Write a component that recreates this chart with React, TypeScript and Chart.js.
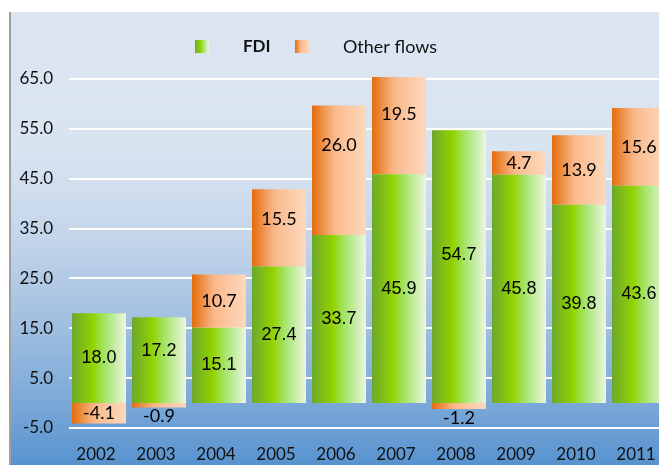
import React, { useEffect, useRef } from "react";
import { Chart, registerables } from "chart.js";

Chart.register(...registerables);

// ---- data ----
const years = ["2002", "2003", "2004", "2005", "2006", "2007", "2008", "2009", "2010", "2011"];
const fdi = [18.0, 17.2, 15.1, 27.4, 33.7, 45.9, 54.7, 45.8, 39.8, 43.6];
const otherFlows = [-4.1, -0.9, 10.7, 15.5, 26.0, 19.5, -1.2, 4.7, 13.9, 15.6];
const seriesNames = ["FDI", "Other flows"];
const yMin = -5;
const yMax = 65;
const yStep = 10;

// ---- styles ----
const GREEN_STOPS: [number, string][] = [
  [0, "#6ca82e"],
  [0.38, "#92d200"],
  [0.62, "#a6e56e"],
  [1, "#ecf6e2"],
];
const ORANGE_STOPS: [number, string][] = [
  [0, "#e46c0a"],
  [0.4, "#f8b688"],
  [0.6, "#fbc49c"],
  [1, "#fdd8bc"],
];
const BAR_PCT = 0.9;

// label nudges (px) mimicking the manually placed labels of the original
const labelNudge: Record<string, number> = {
  "0-1": -9,
  "0-6": -12,
  "1-3": -9,
  "1-4": -25,
  "1-5": -11,
};

function barGradient(stops: [number, string][], fallback: string) {
  return (ctx: any) => {
    const chart = ctx.chart;
    const area = chart.chartArea;
    const xs = chart.scales && chart.scales.x;
    if (!area || !xs || ctx.type !== "data") return fallback;
    const cx = xs.getPixelForValue(ctx.dataIndex);
    const w = ((area.right - area.left) / years.length) * BAR_PCT;
    const g = chart.ctx.createLinearGradient(cx - w / 2, 0, cx + w / 2, 0);
    stops.forEach(([o, c]) => g.addColorStop(o, c));
    return g;
  };
}

const backgroundPlugin = {
  id: "bgPanel",
  beforeDraw(chart: any) {
    const c = chart.ctx;
    const W = chart.width;
    const H = chart.height;
    c.save();
    c.fillStyle = "#ffffff";
    c.fillRect(0, 0, W, H);
    const g = c.createLinearGradient(0, 12, 0, H);
    g.addColorStop(0, "#dce6f2");
    g.addColorStop(0.3, "#d9e4f1");
    g.addColorStop(0.5, "#c4d5ea");
    g.addColorStop(0.7, "#9ebee0");
    g.addColorStop(0.85, "#7eaad9");
    g.addColorStop(1, "#5893cf");
    c.fillStyle = g;
    c.fillRect(11, 12, W - 11, H - 12);
    c.fillStyle = "#a0a0a0";
    c.fillRect(9, 12, 2, H - 12);
    c.restore();
  },
};

const legendPlugin = {
  id: "customLegend",
  afterDraw(chart: any) {
    const c = chart.ctx;
    c.save();
    const drawBox = (x: number, stops: [number, string][]) => {
      const g = c.createLinearGradient(x, 0, x + 14, 0);
      stops.forEach(([o, col]) => g.addColorStop(o, col));
      c.fillStyle = g;
      c.fillRect(x, 40, 14, 13);
    };
    drawBox(195, GREEN_STOPS);
    drawBox(295, ORANGE_STOPS);
    c.fillStyle = "#111111";
    c.textBaseline = "middle";
    c.textAlign = "left";
    c.font = "bold 17px Lato";
    c.fillText(seriesNames[0], 243, 47);
    c.font = "18px Lato";
    c.fillText(seriesNames[1], 343, 47);
    c.restore();
  },
};

const valueLabelPlugin = {
  id: "valueLabels",
  afterDatasetsDraw(chart: any) {
    const c = chart.ctx;
    c.save();
    c.textAlign = "center";
    c.textBaseline = "middle";
    c.fillStyle = "#000000";
    chart.data.datasets.forEach((ds: any, di: number) => {
      const meta = chart.getDatasetMeta(di);
      meta.data.forEach((el: any, i: number) => {
        const v = ds.data[i] as number;
        const p = el.getProps(["x", "y", "base"], true);
        let ty = (p.y + p.base) / 2;
        if (v < 0 && Math.abs(v) < 2) ty = p.y + 9;
        ty += labelNudge[`${di}-${i}`] || 0;
        c.font = di === 0 ? '18px "Liberation Sans", Arial, sans-serif' : "18px Lato";
        c.fillText(v.toFixed(1), p.x, ty);
      });
    });
    c.restore();
  },
};

export default function App() {
  const ref = useRef<HTMLCanvasElement | null>(null);

  useEffect(() => {
    if (!ref.current) return;
    const chart = new Chart(ref.current, {
      type: "bar",
      data: {
        labels: years,
        datasets: [
          {
            label: seriesNames[0],
            data: fdi,
            backgroundColor: barGradient(GREEN_STOPS, "#92d050"),
            borderWidth: 0,
            categoryPercentage: 1,
            barPercentage: BAR_PCT,
            clip: false,
          },
          {
            label: seriesNames[1],
            data: otherFlows,
            backgroundColor: barGradient(ORANGE_STOPS, "#f79646"),
            borderWidth: 0,
            categoryPercentage: 1,
            barPercentage: BAR_PCT,
            clip: false,
          },
        ],
      },
      options: {
        responsive: false,
        animation: false,
        devicePixelRatio: 1,
        layout: { padding: { left: 0, right: 31, top: 79, bottom: 0 } },
        plugins: {
          legend: { display: false },
          tooltip: { enabled: false },
        },
        scales: {
          x: {
            stacked: true,
            grid: { display: false, drawTicks: false },
            border: { display: false },
            ticks: {
              color: "#111111",
              font: { family: "Lato", size: 17 },
              padding: 16,
              maxRotation: 0,
              labelOffset: -3,
            },
            afterFit: (s: any) => {
              s.height = 37;
            },
          },
          y: {
            stacked: true,
            min: yMin,
            max: yMax,
            grid: { color: "#ffffff", lineWidth: 2, drawTicks: false },
            border: { display: false },
            ticks: {
              stepSize: yStep,
              color: "#111111",
              font: { family: "Lato", size: 17 },
              padding: 16,
              callback: (v: any) => Number(v).toFixed(1),
            },
            afterFit: (s: any) => {
              s.width = 69;
            },
          },
        },
      },
      plugins: [backgroundPlugin, valueLabelPlugin, legendPlugin],
    });
    return () => chart.destroy();
  }, []);

  return (
    <div
      style={{
        position: "absolute",
        left: 0,
        top: 0,
        width: 659,
        height: 465,
        overflow: "hidden",
        background: "#ffffff",
      }}
    >
      <canvas
        ref={ref}
        width={700}
        height={465}
        style={{ display: "block", width: 700, height: 465 }}
      />
    </div>
  );
}
